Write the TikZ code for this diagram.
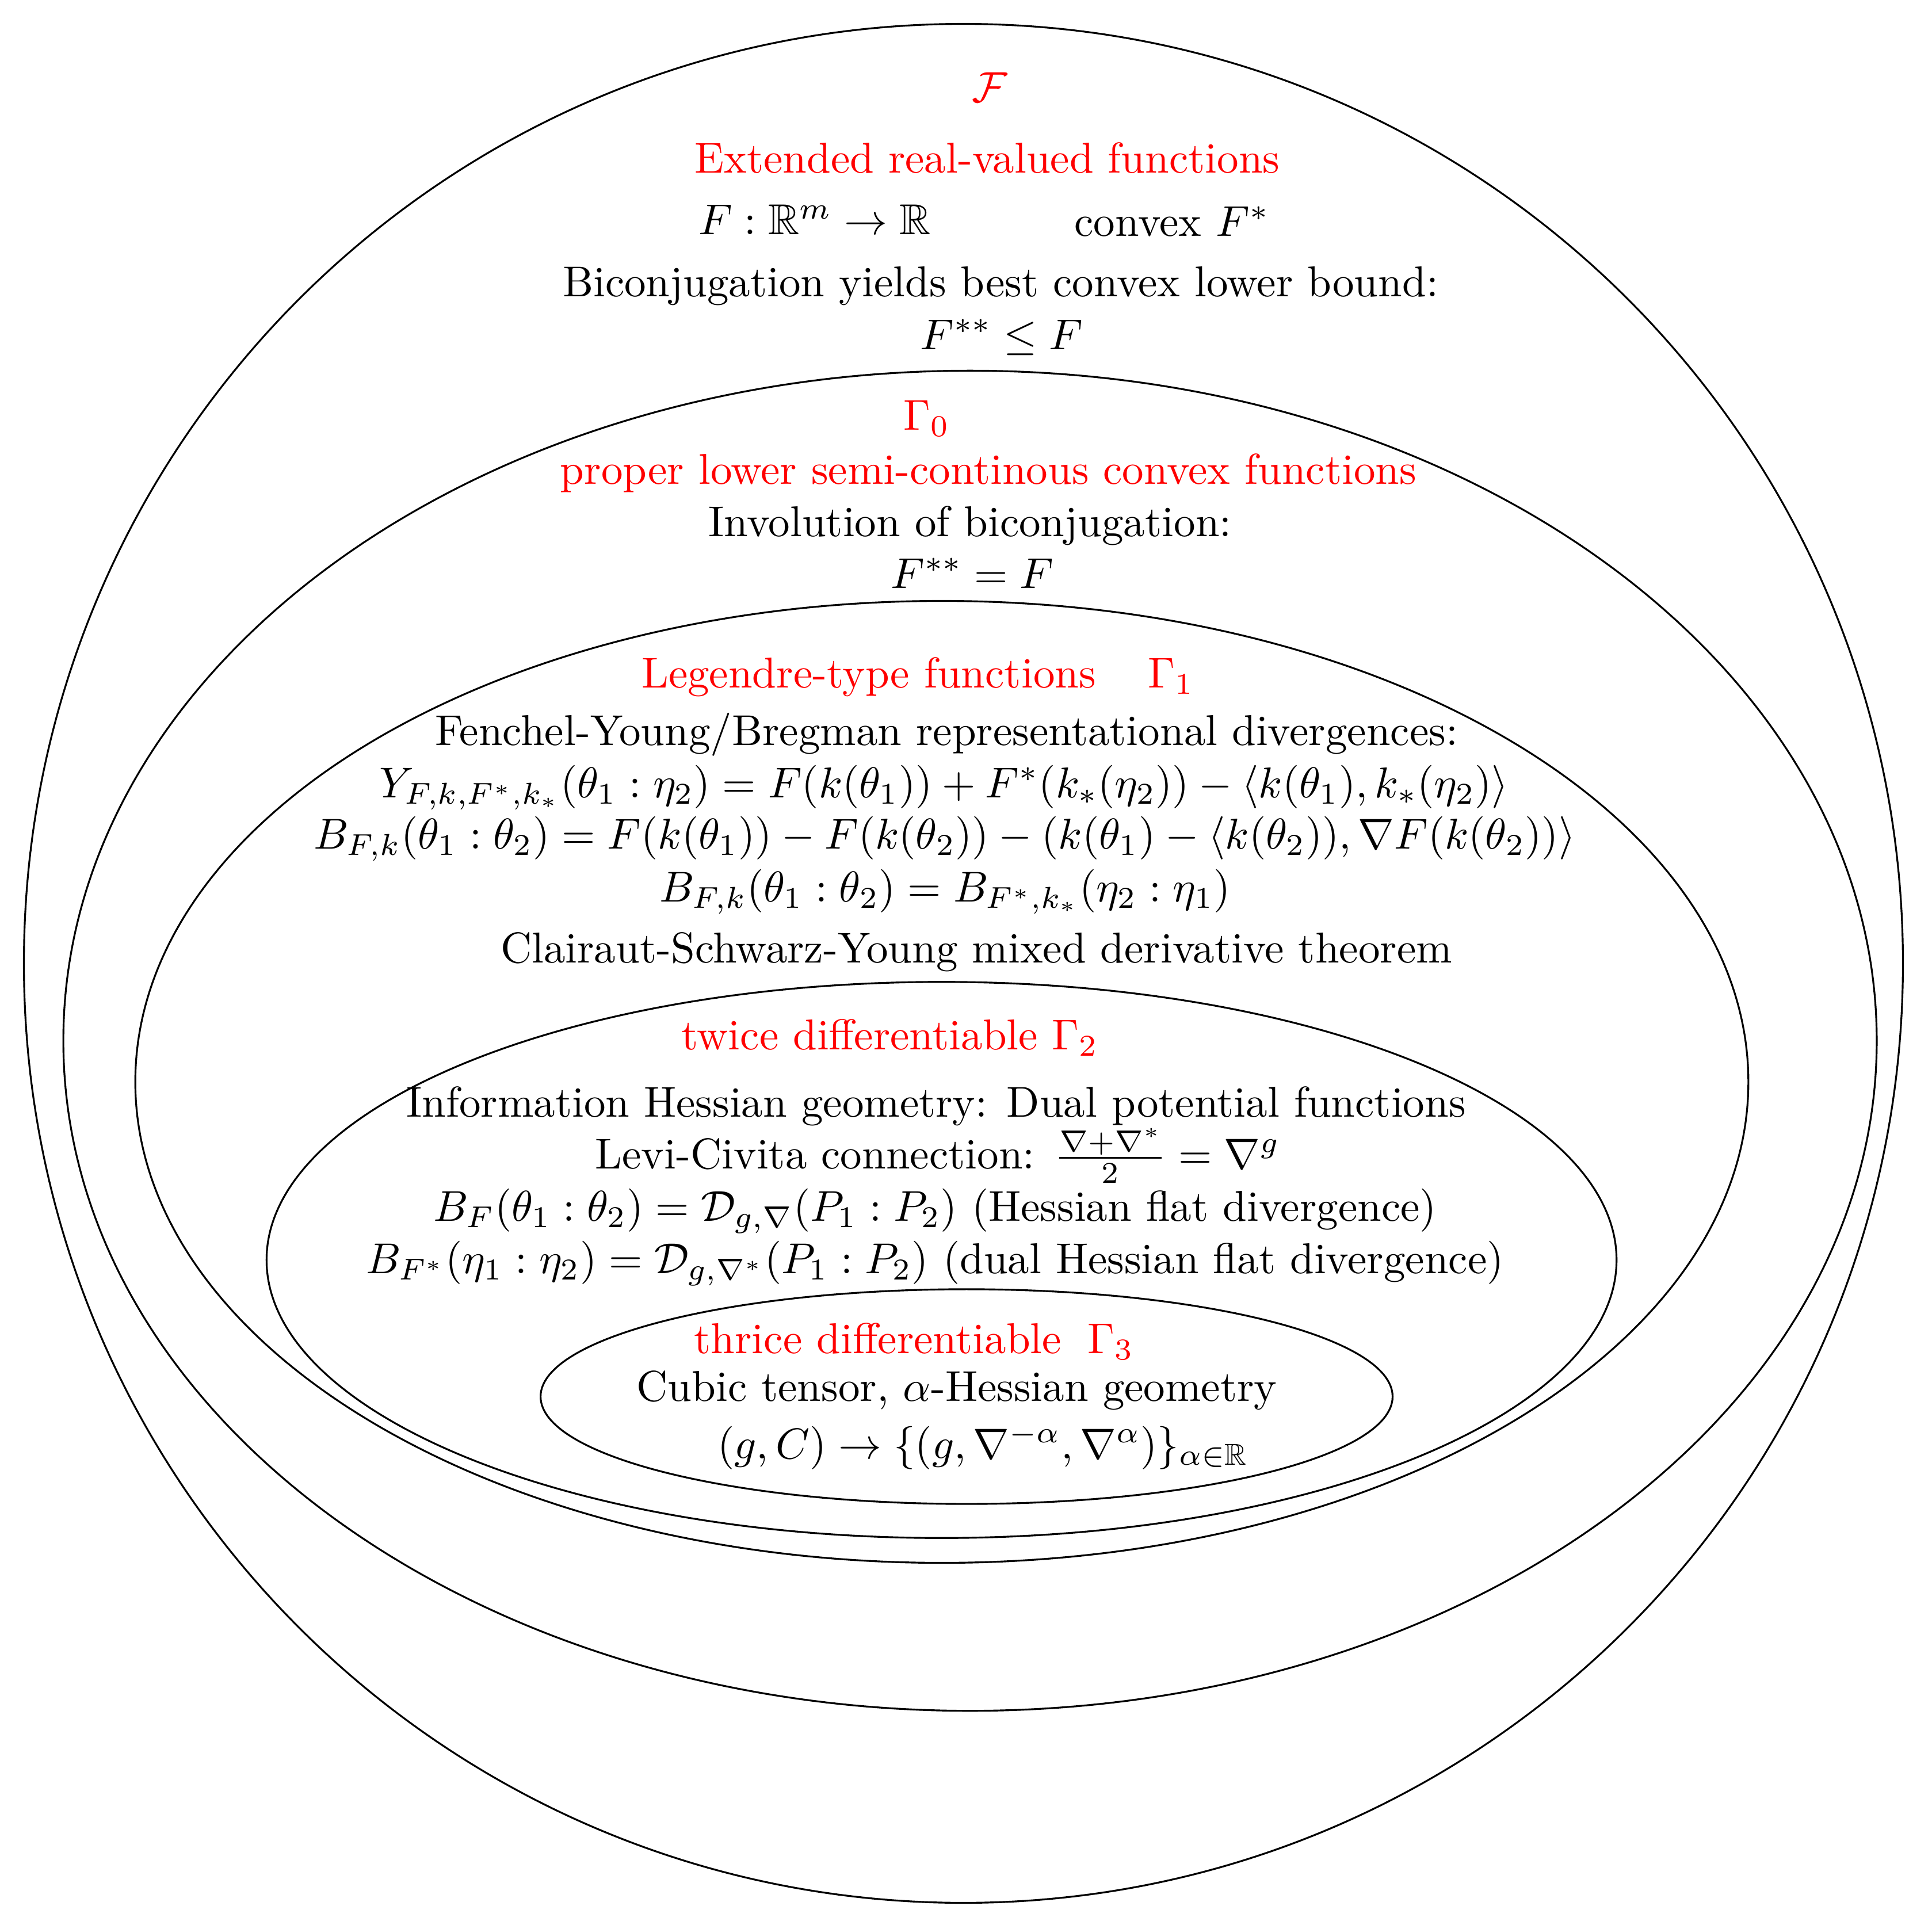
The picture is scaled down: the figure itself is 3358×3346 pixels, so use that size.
\documentclass[tikz,border=0pt]{standalone}
\usepackage{amsmath,amssymb}
\begin{document}
\begin{tikzpicture}[x=0.01cm,y=-0.01cm,
  ring/.style={line width=0.9pt},
  lbl/.style={scale=2.134, anchor=base, inner sep=0pt},
  redlbl/.style={lbl, text=red}]
\useasboundingbox (0,0) rectangle (3358,3346);
% nested sets
\draw[ring] (1674.5,1674.5) circle [radius=16.32cm];
\draw[ring] (1686,1809) ellipse [x radius=15.75cm, y radius=11.64cm];
\draw[ring] (1637,1880.5) ellipse [x radius=14.01cm, y radius=8.355cm];
\draw[ring] (1636.5,2190) ellipse [x radius=11.725cm, y radius=4.83cm];
\draw[ring] (1680,2427.5) ellipse [x radius=7.40cm, y radius=1.865cm];
% F
\node[redlbl] (f) at (1720,178) {$\mathcal{F}$};
\node[redlbl] (ext) at (1716,301) {Extended real-valued functions};
\node[lbl] (map) at (1416,408) {$F:\mathbb{R}^m\rightarrow\mathbb{R}$};
\node[lbl] (conv) at (2037,411) {convex $F^*$};
\node[lbl] (bic) at (1739,516) {Biconjugation yields best convex lower bound:};
\node[lbl] (ineq) at (1741,607) {$F^{**}\leq F$};
% Gamma 0
\node[redlbl] (g0) at (1611,747) {$\Gamma_0$};
\node[redlbl] (proper) at (1718,841) {proper lower semi-continous convex functions};
\node[lbl] (invol) at (1686,932) {Involution of biconjugation:};
\node[lbl] (eq) at (1690,1022) {$F^{**}=F$};
% Gamma 1
\node[redlbl] (leg) at (1510,1195) {Legendre-type functions};
\node[redlbl] (g1) at (2036,1195) {$\Gamma_1$};
\node[lbl] (fy) at (1645,1295) {Fenchel-Young/Bregman representational divergences:};
\node[lbl] (yeq) at (1641,1386) {$Y_{F,k,F^*,k_*}(\theta_1:\eta_2)=F(k(\theta_1))+F^*(k_*(\eta_2))-\langle k(\theta_1),k_*(\eta_2)\rangle$};
\node[lbl] (beq) at (1642,1475) {$B_{F,k}(\theta_1:\theta_2)=F(k(\theta_1))-F(k(\theta_2))-(k(\theta_1)-\langle k(\theta_2)),\nabla F(k(\theta_2))\rangle$};
\node[lbl] (bb) at (1643,1567) {$B_{F,k}(\theta_1:\theta_2)=B_{F^*,k_*}(\eta_2:\eta_1)$};
\node[lbl] (clair) at (1697,1673) {Clairaut-Schwarz-Young mixed derivative theorem};
% Gamma 2
\node[redlbl] (twice) at (1547,1824) {twice differentiable $\Gamma_2$};
\node[lbl] (info) at (1627,1941) {Information Hessian geometry: Dual potential functions};
\node[lbl] (levi) at (1630,2031) {Levi-Civita connection: $\frac{\nabla+\nabla^*}{2}=\nabla^g$};
\node[lbl] (bf) at (1625,2122) {$B_F(\theta_1:\theta_2)=\mathcal{D}_{g,\nabla}(P_1:P_2)$ (Hessian flat divergence)};
\node[lbl] (bfs) at (1625,2213) {$B_{F^*}(\eta_1:\eta_2)=\mathcal{D}_{g,\nabla^*}(P_1:P_2)$ (dual Hessian flat divergence)};
% Gamma 3
\node[redlbl] (thrice) at (1589,2352) {thrice differentiable $\;\Gamma_3$};
\node[lbl] (cubic) at (1663,2435) {Cubic tensor, $\alpha$-Hessian geometry};
\node[lbl] (fam) at (1709,2535) {$(g,C)\rightarrow\{(g,\nabla^{-\alpha},\nabla^\alpha)\}_{\alpha\in\mathbb{R}}$};
\end{tikzpicture}
\end{document}
